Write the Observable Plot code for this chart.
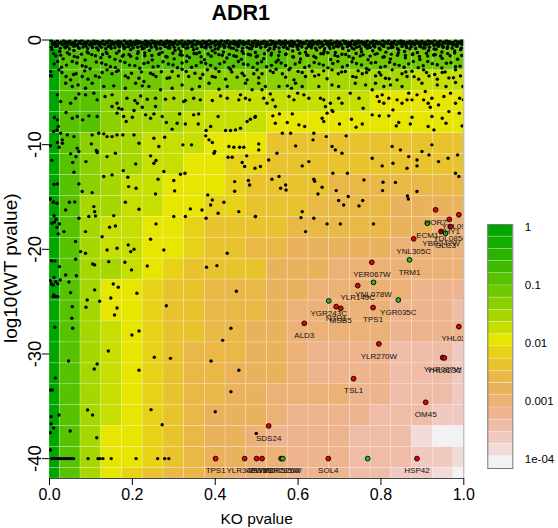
<!DOCTYPE html>
<html><head><meta charset="utf-8">
<script src="https://cdn.jsdelivr.net/npm/d3@7"></script>
<script src="https://cdn.jsdelivr.net/npm/@observablehq/plot@0.6"></script>
<style>
body{margin:0;background:#fff;}
#wrap{position:relative;width:558px;height:528px;}
#wrap svg{position:absolute;left:0;top:0;overflow:visible;}
</style></head><body><div id="wrap"></div>
<script>
// ---- grid of the background image (KO pvalue columns, log10 WT pvalue rows) ----
const xEdges = [0,0.025,0.075,0.125,0.175,0.225,0.275,0.325,0.375,0.425,0.475,0.525,0.575,0.625,0.675,0.725,0.775,0.825,0.875,0.925,0.975,1];
const yEdges = [0,-0.9,-2.9,-4.9,-6.9,-8.9,-10.9,-12.9,-14.9,-16.9,-18.9,-20.9,-22.9,-24.9,-26.9,-28.9,-30.9,-32.9,-34.9,-36.9,-38.9,-40.9,-41.9];
// colour level (0 = 1 ... 19 = 1e-04) of each cell, rows top to bottom
const cellLevels = [
 [0,2,2,2,2,2,2,2,2,2,3,3,3,3,3,3,3,3,3,3,3],
 [0,4,4,4,4,4,4,4,4,4,4,4,5,5,5,5,5,5,5,5,5],
 [0,4,4,4,5,5,6,6,6,6,6,6,6,7,7,7,7,7,8,8,8],
 [0,4,4,6,6,6,7,7,8,8,8,8,8,8,8,8,9,9,9,9,9],
 [0,4,4,6,7,7,7,8,8,8,8,9,9,9,9,9,9,9,9,9,9],
 [0,4,6,7,7,8,8,8,9,9,9,11,11,11,11,11,11,11,11,11,11],
 [0,4,6,7,7,8,8,9,9,10,10,11,11,11,11,11,11,11,11,11,11],
 [0,4,6,7,8,8,9,9,9,10,11,11,11,11,12,12,12,12,12,12,12],
 [0,4,7,7,8,8,9,9,10,10,11,11,11,12,12,12,12,13,13,13,13],
 [0,4,7,8,8,9,9,10,11,11,11,11,12,12,12,12,12,13,13,14,14],
 [0,4,7,8,8,9,9,10,11,11,12,12,13,13,13,13,13,14,14,14,14],
 [0,4,7,7,8,9,10,11,11,11,11,13,13,13,14,14,14,14,14,14,14],
 [0,4,7,9,9,10,11,11,12,12,12,13,13,14,14,14,14,14,15,15,15],
 [0,4,7,9,9,10,11,11,12,12,12,13,14,14,14,14,14,15,15,15,16],
 [0,4,7,8,9,10,11,11,12,12,13,13,14,14,14,14,14,15,15,15,15],
 [0,4,7,8,9,10,11,12,12,12,13,13,14,15,15,15,15,16,16,16,17],
 [0,4,7,8,9,10,11,12,12,13,13,13,14,15,15,15,15,16,16,16,17],
 [0,4,7,8,9,10,11,12,12,13,13,14,14,14,14,15,15,16,16,16,17],
 [0,4,7,8,9,10,11,12,13,13,13,14,15,15,15,15,16,16,16,17,17],
 [0,4,7,9,9,10,11,12,13,13,14,15,15,15,15,16,16,16,18,19,19],
 [0,4,7,9,9,10,11,12,13,13,14,14,15,15,15,16,16,16,17,17,18],
 [0,4,7,9,10,11,12,12,13,14,14,14,15,15,15,16,16,17,17,18,19]
];
// ---- genes: [KO pvalue, log10(WT pvalue)] ----
const topBand = [[.004,-.05],[.012,-.2],[.019,-.08],[.027,-.22],[.034,-.04],[.041,-.18],[.049,-.1],[.056,-.25],[.063,-.06],[.071,-.17],[.078,-.03],[.085,-.21],[.093,-.09],[.1,-.2],[.107,-.05],[.115,-.15],[.122,-.24],[.129,-.07],[.137,-.19],[.144,-.04],[.151,-.16],[.159,-.23],[.166,-.08],[.173,-.18],[.181,-.05],[.188,-.21],[.195,-.1],[.203,-.2],[.21,-.04],[.217,-.16],[.225,-.25],[.232,-.07],[.239,-.19],[.247,-.03],[.254,-.17],[.261,-.22],[.269,-.09],[.276,-.2],[.283,-.05],[.291,-.15],[.298,-.24],[.305,-.06],[.313,-.18],[.32,-.04],[.327,-.21],[.335,-.1],[.342,-.19],[.349,-.05],[.357,-.16],[.364,-.23],[.371,-.08],[.379,-.18],[.386,-.04],[.393,-.2],[.401,-.1],[.408,-.22],[.415,-.06],[.423,-.17],[.43,-.03],[.437,-.2],[.445,-.09],[.452,-.21],[.459,-.05],[.467,-.16],[.474,-.24],[.481,-.07],[.489,-.19],[.496,-.04],[.503,-.17],[.511,-.22],[.518,-.08],[.525,-.2],[.533,-.05],[.54,-.15],[.547,-.23],[.555,-.06],[.562,-.18],[.569,-.04],[.577,-.21],[.584,-.1],[.591,-.19],[.599,-.05],[.606,-.16],[.613,-.24],[.621,-.08],[.628,-.18],[.635,-.04],[.643,-.2],[.65,-.1],[.657,-.22],[.665,-.06],[.672,-.17],[.679,-.03],[.687,-.2],[.694,-.09],[.701,-.21],[.709,-.05],[.716,-.16],[.723,-.24],[.731,-.07],[.738,-.19],[.745,-.04],[.753,-.17],[.76,-.22],[.767,-.08],[.775,-.2],[.782,-.05],[.789,-.15],[.797,-.23],[.804,-.06],[.811,-.18],[.819,-.04],[.826,-.21],[.833,-.1],[.841,-.19],[.848,-.05],[.855,-.16],[.863,-.24],[.87,-.08],[.877,-.18],[.885,-.04],[.892,-.2],[.899,-.1],[.907,-.22],[.914,-.06],[.921,-.17],[.929,-.03],[.936,-.2],[.943,-.09],[.951,-.21],[.958,-.05],[.965,-.16],[.973,-.24],[.98,-.07],[.987,-.19],[.995,-.04],[.999,-.15],
[.008,-.42],[.02,-.55],[.031,-.35],[.043,-.6],[.052,-.38],[.066,-.5],[.075,-.33],[.088,-.58],[.097,-.45],[.11,-.36],[.121,-.52],[.133,-.4],[.142,-.62],[.156,-.34],[.165,-.48],[.178,-.57],[.187,-.37],[.199,-.5],[.21,-.31],[.222,-.6],[.231,-.43],[.244,-.36],[.255,-.55],[.266,-.41],[.277,-.33],[.289,-.58],[.298,-.46],[.311,-.35],[.322,-.52],[.333,-.4],[.344,-.61],[.356,-.33],[.367,-.49],[.378,-.56],[.389,-.37],[.4,-.5],[.412,-.32],[.423,-.59],[.434,-.44],[.446,-.36],[.457,-.54],[.468,-.4],[.479,-.34],[.49,-.57],[.502,-.45],[.513,-.35],[.524,-.51],[.535,-.41],[.546,-.62],[.558,-.34],[.569,-.48],[.58,-.56],[.591,-.37],[.602,-.5],[.614,-.31],[.625,-.6],[.636,-.43],[.647,-.36],[.659,-.55],[.67,-.41],[.681,-.33],[.692,-.58],[.703,-.46],[.715,-.35],[.726,-.52],[.737,-.4],[.748,-.61],[.76,-.33],[.771,-.49],[.782,-.56],[.793,-.37],[.804,-.5],[.816,-.32],[.827,-.59],[.838,-.44],[.849,-.36],[.861,-.54],[.872,-.4],[.883,-.34],[.894,-.57],[.905,-.45],[.917,-.35],[.928,-.51],[.939,-.41],[.95,-.62],[.962,-.34],[.973,-.48],[.984,-.56],[.995,-.37],
[.006,-.9],[.025,-1.1],[.038,-.75],[.059,-1.0],[.072,-.8],[.091,-1.15],[.104,-.72],[.118,-.95],[.137,-1.2],[.149,-.8],[.168,-1.05],[.183,-.7],[.196,-.92],[.214,-1.12],[.228,-.78],[.241,-1.0],[.259,-.85],[.272,-1.18],[.286,-.74],[.303,-.98],[.317,-1.1],[.33,-.8],[.348,-.93],[.362,-1.2],[.375,-.72],[.393,-1.02],[.407,-.84],[.42,-1.14],[.438,-.76],[.452,-.97],[.465,-1.08],[.483,-.81],[.497,-1.19],[.51,-.73],[.528,-.99],[.542,-.86],[.555,-1.13],[.573,-.77],[.587,-1.04],[.6,-.9],[.618,-1.17],[.632,-.74],[.645,-.96],[.663,-1.09],[.677,-.82],[.69,-1.2],[.708,-.75],[.722,-1.0],[.735,-.87],[.753,-1.12],[.767,-.78],[.78,-1.03],[.798,-.91],[.812,-1.16],[.825,-.73],[.843,-.95],[.857,-1.1],[.87,-.83],[.888,-1.19],[.902,-.76],[.915,-1.01],[.933,-.88],[.947,-1.14],[.96,-.79],[.978,-1.05],[.992,-.92],
[.015,-1.5],[.033,-1.8],[.048,-1.35],[.068,-1.65],[.086,-1.9],[.102,-1.4],[.124,-1.7],[.139,-1.3],[.158,-1.85],[.176,-1.55],[.192,-1.38],[.211,-1.75],[.23,-1.5],[.248,-1.9],[.265,-1.33],[.284,-1.62],[.301,-1.8],[.32,-1.45],[.338,-1.68],[.355,-1.32],[.374,-1.88],[.39,-1.55],[.409,-1.4],[.428,-1.72],[.445,-1.5],[.463,-1.85],[.48,-1.36],[.499,-1.6],[.517,-1.78],[.535,-1.44],[.552,-1.9],[.571,-1.34],[.589,-1.63],[.606,-1.82],[.624,-1.47],[.643,-1.7],[.661,-1.31],[.679,-1.87],[.696,-1.56],[.715,-1.39],[.733,-1.74],[.75,-1.52],[.769,-1.88],[.786,-1.35],[.805,-1.64],[.823,-1.81],[.84,-1.46],[.859,-1.69],[.877,-1.33],[.894,-1.86],[.913,-1.54],[.931,-1.41],[.948,-1.76],[.967,-1.5],[.985,-1.84],
[.011,-2.3],[.029,-2.6],[.055,-2.05],[.079,-2.45],[.098,-2.75],[.126,-2.2],[.147,-2.55],[.171,-2.0],[.193,-2.4],[.218,-2.7],[.238,-2.15],[.262,-2.5],[.287,-2.3],[.309,-2.65],[.331,-2.05],[.354,-2.45],[.377,-2.25],[.401,-2.72],[.422,-2.1],[.444,-2.5],[.468,-2.3],[.491,-2.62],[.512,-2.08],[.536,-2.42],[.559,-2.2],[.581,-2.7],[.604,-2.12],[.627,-2.48],[.651,-2.28],[.672,-2.66],[.696,-2.04],[.719,-2.44],[.741,-2.24],[.765,-2.74],[.787,-2.14],[.81,-2.52],[.833,-2.32],[.856,-2.6],[.878,-2.06],[.902,-2.46],[.924,-2.26],[.947,-2.68],[.969,-2.18],[.991,-2.5]];
const topBand2 = [[.008,-.32],[.016,-.4],[.023,-.3],[.031,-.44],[.038,-.34],[.045,-.28],[.053,-.41],[.06,-.33],[.067,-.45],[.075,-.29],[.082,-.38],[.089,-.31],[.097,-.43],[.104,-.35],[.111,-.28],[.119,-.4],[.126,-.32],[.133,-.44],[.141,-.3],[.148,-.37],[.155,-.42],[.163,-.29],[.17,-.36],[.177,-.45],[.185,-.31],[.192,-.39],[.199,-.3],[.207,-.43],[.214,-.34],[.221,-.28],[.229,-.41],[.236,-.33],[.243,-.45],[.251,-.29],[.258,-.38],[.265,-.31],[.273,-.43],[.28,-.35],[.287,-.28],[.295,-.4],[.302,-.32],[.309,-.44],[.317,-.3],[.324,-.37],[.331,-.42],[.339,-.29],[.346,-.36],[.353,-.45],[.361,-.31],[.368,-.39],[.375,-.3],[.383,-.43],[.39,-.34],[.397,-.28],[.405,-.41],[.412,-.33],[.419,-.45],[.427,-.29],[.434,-.38],[.441,-.31],[.449,-.43],[.456,-.35],[.463,-.28],[.471,-.4],[.478,-.32],[.485,-.44],[.493,-.3],[.5,-.37],[.507,-.42],[.515,-.29],[.522,-.36],[.529,-.45],[.537,-.31],[.544,-.39],[.551,-.3],[.559,-.43],[.566,-.34],[.573,-.28],[.581,-.41],[.588,-.33],[.595,-.45],[.603,-.29],[.61,-.38],[.617,-.31],[.625,-.43],[.632,-.35],[.639,-.28],[.647,-.4],[.654,-.32],[.661,-.44],[.669,-.3],[.676,-.37],[.683,-.42],[.691,-.29],[.698,-.36],[.705,-.45],[.713,-.31],[.72,-.39],[.727,-.3],[.735,-.43],[.742,-.34],[.749,-.28],[.757,-.41],[.764,-.33],[.771,-.45],[.779,-.29],[.786,-.38],[.793,-.31],[.801,-.43],[.808,-.35],[.815,-.28],[.823,-.4],[.83,-.32],[.837,-.44],[.845,-.3],[.852,-.37],[.859,-.42],[.867,-.29],[.874,-.36],[.881,-.45],[.889,-.31],[.896,-.39],[.903,-.3],[.911,-.43],[.918,-.34],[.925,-.28],[.933,-.41],[.94,-.33],[.947,-.45],[.955,-.29],[.962,-.38],[.969,-.31],[.977,-.43],[.984,-.35],[.991,-.28],[.998,-.4],
[.004,-.7],[.015,-.62],[.026,-.8],[.037,-.66],[.048,-.85],[.059,-.6],[.07,-.74],[.081,-.68],[.092,-.82],[.103,-.63],[.114,-.77],[.125,-.7],[.136,-.84],[.147,-.61],[.158,-.73],[.169,-.66],[.18,-.81],[.191,-.64],[.202,-.76],[.213,-.69],[.224,-.85],[.235,-.6],[.246,-.72],[.257,-.67],[.268,-.8],[.279,-.63],[.29,-.78],[.301,-.7],[.312,-.83],[.323,-.61],[.334,-.74],[.345,-.65],[.356,-.82],[.367,-.64],[.378,-.76],[.389,-.69],[.4,-.85],[.411,-.6],[.422,-.71],[.433,-.67],[.444,-.8],[.455,-.62],[.466,-.78],[.477,-.7],[.488,-.84],[.499,-.61],[.51,-.73],[.521,-.66],[.532,-.81],[.543,-.64],[.554,-.76],[.565,-.69],[.576,-.85],[.587,-.6],[.598,-.72],[.609,-.67],[.62,-.8],[.631,-.63],[.642,-.78],[.653,-.7],[.664,-.83],[.675,-.61],[.686,-.74],[.697,-.65],[.708,-.82],[.719,-.64],[.73,-.76],[.741,-.69],[.752,-.85],[.763,-.6],[.774,-.71],[.785,-.67],[.796,-.8],[.807,-.62],[.818,-.78],[.829,-.7],[.84,-.84],[.851,-.61],[.862,-.73],[.873,-.66],[.884,-.81],[.895,-.64],[.906,-.76],[.917,-.69],[.928,-.85],[.939,-.6],[.95,-.72],[.961,-.67],[.972,-.8],[.983,-.63],[.994,-.78],
[.01,-1.3],[.027,-1.45],[.043,-1.22],[.06,-1.58],[.077,-1.35],[.094,-1.25],[.111,-1.5],[.128,-1.38],[.145,-1.6],[.162,-1.27],[.179,-1.42],[.196,-1.55],[.213,-1.3],[.23,-1.24],[.247,-1.48],[.264,-1.36],[.281,-1.57],[.298,-1.26],[.315,-1.41],[.332,-1.52],[.349,-1.29],[.366,-1.6],[.383,-1.34],[.4,-1.23],[.417,-1.46],[.434,-1.37],[.451,-1.58],[.468,-1.28],[.485,-1.44],[.502,-1.53],[.519,-1.31],[.536,-1.25],[.553,-1.49],[.57,-1.39],[.587,-1.59],[.604,-1.27],[.621,-1.43],[.638,-1.55],[.655,-1.32],[.672,-1.22],[.689,-1.47],[.706,-1.36],[.723,-1.57],[.74,-1.29],[.757,-1.42],[.774,-1.54],[.791,-1.3],[.808,-1.6],[.825,-1.35],[.842,-1.24],[.859,-1.48],[.876,-1.38],[.893,-1.58],[.91,-1.26],[.927,-1.44],[.944,-1.53],[.961,-1.3],[.978,-1.24],[.995,-1.47],
[.02,-2.05],[.041,-2.4],[.066,-2.2],[.088,-2.55],[.113,-2.1],[.136,-2.35],[.159,-2.62],[.182,-2.15],[.206,-2.45],[.228,-2.25],[.25,-2.58],[.274,-2.08],[.298,-2.38],[.32,-2.2],[.343,-2.6],[.366,-2.12],[.389,-2.42],[.411,-2.28],[.433,-2.65],[.456,-2.05],[.479,-2.36],[.502,-2.22],[.524,-2.56],[.547,-2.1],[.57,-2.44],[.593,-2.3],[.616,-2.62],[.639,-2.15],[.661,-2.4],[.684,-2.24],[.707,-2.58],[.73,-2.08],[.753,-2.38],[.776,-2.2],[.799,-2.6],[.821,-2.12],[.844,-2.42],[.867,-2.28],[.89,-2.64],[.913,-2.06],[.936,-2.36],[.958,-2.22],[.98,-2.56],
[.03,-3.1],[.058,-3.3],[.085,-2.95],[.12,-3.55],[.162,-3.0],[.19,-3.6],[.222,-3.05],[.25,-3.3],[.29,-3.6],[.33,-3.0],[.37,-3.3],[.4,-3.55],[.44,-3.05],[.47,-3.4],[.505,-3.6],[.54,-3.1],[.57,-3.55],[.6,-3.0],[.64,-3.45],[.67,-3.7],[.705,-3.05],[.74,-3.55],[.765,-3.1],[.8,-3.35],[.82,-3.7],[.86,-3.05],[.88,-3.5],[.91,-3.1],[.93,-3.3],[.955,-3.05],[.975,-3.6]];
const leftGenes = [[.005,-3.43],[.023,-2.85],[.04,-3.49],[.051,-3.81],[.064,-3.23],[.079,-3.49],[.093,-3.74],[.111,-3.43],[.127,-3.11],[.139,-2.85],[.151,-3.23],[.166,-2.92],[.183,-3.43],[.198,-3.17],[.216,-3.65],[.228,-3.97],[.244,-3.17],[.257,-3.49],[.27,-3.04],[.284,-3.65],[.296,-3.01],[.311,-3.43],[.32,-2.79],[.336,-3.49],[.351,-3.17],[.364,-3.65],[.381,-2.85],[.393,-3.49],[.409,-3.01],[.425,-3.74],[.437,-2.79],[.453,-3.55],[.465,-3.17],[.477,-3.81],[.493,-3.23],
[.039,-4.13],[.055,-4.45],[.069,-4.29],[.087,-4.61],[.103,-4.13],[.131,-4.45],[.155,-4.38],[.183,-4.61],[.208,-4.13],[.224,-4.38],[.24,-4.45],[.268,-4.76],[.296,-4.61],[.32,-4.29],[.344,-4.7],[.362,-4.45],[.385,-4.13],[.409,-4.7],[.429,-4.45],[.473,-4.13],[.489,-4.76],
[.019,-5.24],[.027,-5.88],[.051,-6.04],[.063,-5.56],[.071,-5.15],[.087,-5.24],[.107,-5.08],[.115,-5.72],[.134,-5.4],[.151,-5.24],[.163,-6.04],[.187,-5.56],[.206,-5.78],[.22,-5.34],[.236,-5.66],[.256,-5.56],[.28,-5.66],[.3,-5.56],[.324,-5.88],[.328,-5.78],[.348,-5.56],[.364,-5.72],[.393,-5.78],[.413,-5.34],[.429,-5.56],[.457,-5.72],[.461,-5.24],[.473,-5.56],[.483,-5.72],
[.019,-7.63],[.021,-8.27],[.027,-8.91],[.031,-9.54],[.04,-6.93],[.055,-7.47],[.067,-7.31],[.08,-7.63],[.095,-7.25],[.115,-7.31],[.119,-8.91],[.131,-8.97],[.151,-6.36],[.163,-6.99],[.167,-6.52],[.175,-6.61],[.179,-7.31],[.185,-7.79],[.2,-7.38],[.204,-6.74],[.212,-6.04],[.224,-6.42],[.232,-7.15],[.244,-7.47],[.252,-7.06],[.256,-6.36],[.272,-7.31],[.282,-7.89],[.296,-8.52],[.308,-7.95],[.314,-7.06],[.328,-8.02],[.348,-7.15],[.36,-7.06],[.359,-8.02],[.378,-8.65],[.389,-8.27],[.407,-7.31],[.425,-8.65],[.437,-8.65],[.449,-8.59],[.461,-8.43],[.477,-7.79],[.485,-7.57],[.496,-7.38],
[.01,-8.75],[.019,-9.8],[.031,-9.86],[.043,-9.07],[.059,-9.23],[.067,-10.34],[.103,-9.07],[.101,-9.93],[.113,-10.56],[.115,-10.76],[.139,-9.23],[.151,-9.23],[.163,-9.07],[.177,-9.07],[.204,-9.07],[.216,-9.86],[.252,-9.39],[.264,-10.18],[.278,-9.29],[.322,-10.02],[.343,-10.02],[.377,-9.16],[.385,-9.54],[.393,-9.8],[.399,-10.66],[.433,-10.18],[.445,-10.25],[.459,-10.25],[.469,-10.25],
[.023,-10.25],[.051,-10.88],[.056,-11.71],[.064,-11.14],[.071,-10.66],[.088,-11.62],[.115,-10.66],[.139,-11.14],[.159,-10.82],[.208,-11.84],[.244,-11.07],[.252,-11.78],[.257,-11.52],[.276,-12.57],[.316,-12.83],[.327,-12.73],[.397,-10.82],[.431,-11.2],[.441,-11.2],[.465,-11.71],[.471,-12.09],[.476,-11.07],[.496,-12.25],
[.001,-15.19],[.01,-15.47],[.019,-13.75],[.039,-16.24],[.048,-15.5],[.059,-12.64],[.061,-15.47],[.071,-13.75],[.071,-17.03],[.079,-14.48],[.087,-18.31],[.095,-16.87],[.103,-14.58],[.107,-15.92],[.109,-16.4],[.111,-16.81],[.131,-13.05],[.145,-17.89],[.151,-12.89],[.155,-16.78],[.159,-17.77],[.178,-12.48],[.183,-15.5],[.189,-13.11],[.191,-14.01],[.209,-14.17],[.216,-16.17],[.244,-19.04],[.256,-14.71],[.257,-17.57],[.262,-13.3],[.276,-20.06],[.3,-13.43],[.302,-14.42],[.3,-16.87],[.328,-16.87],[.34,-16.14],[.368,-16.24],[.378,-17.03],[.382,-14.8],[.389,-15.76],[.393,-15.28],[.407,-16.56],[.421,-15.5],[.429,-20.38],[.447,-13.53],[.447,-14.45],[.457,-16.4],[.48,-13.43],[.483,-13.85],[.497,-16.87],
[.016,-17.13],[.024,-17.57],[.021,-18.53],[.006,-17.51],[.035,-18.31],[.063,-19.26],[.075,-20.22],[.087,-20.38],[.127,-18.79],[.139,-20.06],[.163,-19.9],[.19,-19.58],[.196,-20.22],[.204,-20.0],
[.001,-3.4],[.003,-3.0],[.012,-7.4],[.002,-10.1],[.018,-8.6],[.006,-11.5],[.011,-13.8],[.002,-15.2],[.009,-15.5],[.018,-15.6],[.011,-16.8],[.012,-17.4],[.018,-17.9],[.005,-21.1],[.002,-23.0],[.011,-22.7],[.009,-23.4],[.02,-23.3],[.009,-24.5],[.011,-24.5]];
const rightGenes = [[.501,-2.85],[.513,-3.23],[.533,-2.95],[.547,-2.79],[.562,-3.23],[.578,-2.85],[.59,-3.81],[.61,-3.11],[.618,-3.49],[.634,-2.98],[.65,-3.33],[.662,-2.95],[.682,-2.85],[.697,-3.23],[.714,-3.01],[.732,-3.49],[.745,-2.95],[.755,-3.23],[.771,-2.85],[.787,-3.43],[.796,-3.11],[.811,-3.65],[.827,-2.85],[.839,-3.81],[.851,-3.23],[.863,-3.49],[.875,-2.98],[.891,-3.74],[.903,-2.85],[.916,-3.43],[.936,-3.74],[.948,-3.11],[.964,-3.62],[.98,-2.85],[.992,-3.43],
[.505,-4.13],[.521,-4.45],[.554,-4.45],[.574,-4.38],[.594,-4.13],[.61,-4.45],[.65,-4.45],[.682,-4.29],[.698,-4.45],[.738,-4.13],[.763,-4.29],[.787,-4.13],[.807,-4.45],[.823,-4.29],[.851,-4.45],[.899,-4.13],[.936,-4.29],[.957,-4.45],[.98,-4.06],[.998,-4.45],
[.513,-4.76],[.517,-5.56],[.525,-6.04],[.533,-5.15],[.539,-5.72],[.545,-6.36],[.578,-5.4],[.584,-4.6],[.59,-5.72],[.599,-5.08],[.614,-5.24],[.626,-5.56],[.654,-5.56],[.662,-5.72],[.666,-6.36],[.678,-6.04],[.682,-6.74],[.698,-5.56],[.706,-6.04],[.726,-5.08],[.747,-5.56],[.757,-6.52],[.779,-4.76],[.791,-5.4],[.796,-5.88],[.803,-5.24],[.807,-6.04],[.819,-5.56],[.829,-6.68],[.839,-5.72],[.851,-6.04],[.863,-5.72],[.867,-5.08],[.875,-5.72],[.887,-5.24],[.903,-5.72],[.907,-4.92],[.914,-6.04],[.919,-6.42],[.923,-5.56],[.939,-6.2],[.952,-5.4],[.968,-5.08],[.98,-6.04],[.99,-5.56],[.999,-5.72],
[.497,-7.31],[.539,-7.25],[.545,-7.95],[.555,-7.06],[.562,-8.91],[.574,-7.89],[.582,-8.91],[.586,-7.06],[.602,-8.11],[.616,-8.27],[.638,-8.91],[.658,-7.47],[.662,-7.79],[.67,-6.99],[.684,-6.84],[.7,-8.02],[.716,-9.16],[.729,-7.57],[.74,-8.33],[.755,-8.02],[.779,-7.15],[.796,-7.25],[.819,-7.25],[.837,-8.21],[.843,-7.89],[.871,-8.02],[.875,-7.38],[.914,-8.27],[.923,-7.31],[.928,-8.59],[.948,-7.47],[.957,-7.95],[.964,-6.84],[.989,-6.99],[.996,-8.21],
[.505,-9.93],[.505,-10.5],[.509,-12.09],[.529,-11.46],[.549,-10.82],[.594,-10.12],[.61,-12.03],[.626,-11.62],[.636,-9.54],[.668,-9.23],[.682,-10.18],[.69,-10.5],[.706,-10.82],[.779,-11.3],[.803,-12.03],[.827,-10.18],[.829,-11.78],[.847,-10.5],[.863,-12.25],[.867,-11.14],[.887,-11.46],[.887,-12.03],[.899,-10.66],[.916,-10.98],[.923,-10.02],[.939,-11.62],[.962,-11.3],[.98,-12.73],[.985,-10.98],[.988,-13.05],
[.537,-13.3],[.554,-13.05],[.558,-14.17],[.57,-13.85],[.571,-14.33],[.61,-16.4],[.607,-16.97],[.618,-18.31],[.638,-13.3],[.64,-13.5],[.648,-14.71],[.658,-14.07],[.684,-12.73],[.692,-14.39],[.698,-15.34],[.71,-15.76],[.719,-12.73],[.721,-14.96],[.747,-15.85],[.756,-15.34],[.759,-13.37],[.782,-17.57],[.805,-13.59],[.804,-14.39],[.835,-13.62],[.864,-14.9],[.866,-15.19],[.887,-14.48],[.638,-17.03],[.67,-17.57],[.702,-17.57],[.497,-16.87]];
const lowGenes = [[.013,-21.11],[.063,-20.95],[.024,-21.65],[.104,-21.4],[.109,-21.49],[.143,-21.18],[.182,-21.24],[.198,-21.97],[.236,-21.59],[.379,-21.72],[.404,-21.56],[.039,-22.45],[.065,-22.52],[.026,-22.93],[.015,-23.09],[.005,-23.31],[.047,-23.12],[.109,-23.88],[.154,-23.31],[.166,-23.63],[.051,-24.14],[.211,-24.2],[.01,-24.36],[.015,-24.52],[.02,-24.52],[.148,-24.65],[.091,-24.84],[.121,-24.97],[.451,-24.01],[.055,-25.48],[.088,-25.54],[.163,-25.61],[.282,-25.39],[.157,-26.27],[.054,-26.59],[.013,-27.45],[.056,-27.55],[.438,-27.55],[.216,-27.8],[.199,-28.19],[.418,-28.7],[.142,-29.72],[.046,-30.67],[.115,-30.96],[.108,-31.44],[.253,-30.32],[.292,-30.42],[.39,-30.67],[.216,-31.56],[.457,-31.56],[.014,-32.3],[.003,-33.45],[.007,-33.45],[.438,-33.6],[.092,-35.36],[.104,-35.83],[.245,-35.32],[.4,-35.52],[.023,-35.83],[.004,-35.99],[.004,-36.69],[.01,-37.08],[.05,-37.36],[.002,-37.52],[.272,-36.76],[.114,-38.0],[.002,-39.18],[.499,-37.59],
[.005,-40],[.01,-40],[.014,-40],[.019,-40],[.024,-40],[.029,-40],[.034,-40],[.039,-40],[.043,-40],[.048,-40],[.053,-40],[.058,-40],[.093,-40],[.117,-40],[.122,-40],[.129,-40],[.149,-40],[.209,-40],[.261,-40],[.278,-40],[.288,-40]];
// highlighted genes: name, KO pvalue, log10(WT pvalue), group
const hiNames = ["HOR7","YKL091C","RHY1","ECM1","YDL085C","GLC3","YBR242W","YNL305C","YER067W","TRM1","YLR149C","YNL078W","YGR243C","NTH1","MSB5","YGR035C","TPS1","ALD3","YHL021C","YLR270W","YHR087W","YHL023C","TSL1","OM45","SDS24","TPS1","YLR345W","GSY2","PGM2","YBR285W","YDR526W","SOL4","","HSP42"];
const hiKO =   [0.932,0.988,0.965,0.912,0.968,0.956,0.945,0.879,0.778,0.869,0.744,0.782,0.674,0.692,0.703,0.842,0.781,0.615,0.988,0.795,0.949,0.953,0.734,0.908,0.529,0.401,0.471,0.500,0.513,0.559,0.563,0.673,0.768,0.887];
const hiWT =   [-16.23,-16.70,-17.14,-17.51,-17.83,-18.47,-18.3,-19.0,-21.24,-21.01,-23.47,-23.16,-24.93,-25.48,-25.64,-24.84,-25.57,-27.07,-27.39,-29.04,-30.35,-30.38,-32.36,-34.62,-36.88,-40,-40,-40,-40,-40,-40,-40,-40,-40];
const hiGroup = ["red","red","red","green","red","green","red","red","red","green","red","green","green","red","red","green","red","red","red","red","red","red","red","red","red","red","red","red","red","red","green","red","green","red"];
// axes / legend
const xTicks = [0,0.2,0.4,0.6,0.8,1];
const yTicks = [0,-10,-20,-30,-40];
const legendTicks = [1,0.1,0.01,0.001,0.0001];
const legendLabels = ["1","0.1","0.01","0.001","1e-04"];
const legendRange = [1.11, 7.0e-5];

// ---- palette: R terrain.colors(20) ----
function hsv(h,s,v){const i=Math.floor(h*6)%6,f=h*6-Math.floor(h*6),p=v*(1-s),q=v*(1-f*s),t=v*(1-(1-f)*s);
 const c=[[v,t,p],[q,v,p],[p,v,t],[p,q,v],[t,p,v],[v,p,q]][i];return d3.rgb(c[0]*255,c[1]*255,c[2]*255).formatHex();}
const pal=[];
for(let i=0;i<10;i++) pal.push(hsv(1/3-(1/6)*i/9,1,0.65+0.25*i/9));
for(let j=1;j<=10;j++) pal.push(hsv(1/6-(1/6)*j/10,1-j/10,0.9+0.05*j/10));

const cells=[];
cellLevels.forEach((row,r)=>row.forEach((lv,c)=>cells.push({x1:xEdges[c],x2:xEdges[c+1],y1:yEdges[r+1],y2:yEdges[r],lv})));
const genes=[...topBand,...topBand2,...leftGenes,...rightGenes,...lowGenes];
const hi=hiNames.map((n,i)=>({name:n,x:hiKO[i],y:hiWT[i],g:hiGroup[i]}));
const hiOrdered=[...hi.filter(d=>d.g==="red"),...hi.filter(d=>d.g==="green")];

const font='"Liberation Sans", Arial, Helvetica, sans-serif';
const W=558,H=528;
const main=Plot.plot({
 width:W,height:H,marginLeft:49,marginRight:94.7,marginTop:39.5,marginBottom:50,
 style:{fontFamily:font,background:"transparent",color:"black"},
 x:{domain:[0,1]}, y:{domain:[-41.9,0]},
 marks:[
  Plot.rect(cells,{x1:"x1",x2:"x2",y1:"y1",y2:"y2",fill:d=>pal[d.lv],stroke:"#fff",strokeOpacity:0.28,strokeWidth:0.7}),
  Plot.dot(genes,{x:d=>d[0],y:d=>d[1],r:1.7,fill:"black",stroke:"none",clip:true}),
  Plot.dot(hiOrdered,{x:"x",y:"y",r:2.4,fill:d=>d.g==="red"?"#e80000":"#1fbf1f",stroke:"black",strokeWidth:0.9,clip:true}),
  Plot.text(hiOrdered,{x:"x",y:"y",text:"name",dy:9,lineAnchor:"top",fontSize:8,fill:"#111",clip:true}),
  Plot.ruleX([1],{stroke:"#aaa",strokeWidth:1}),
  Plot.ruleY([-41.9],{x1:0,x2:1,stroke:"#444"}),
  Plot.axisX(xTicks,{tickSize:7,tickPadding:3,tickFormat:d3.format(".1f"),fontSize:16,label:null}),
  Plot.axisY(yTicks,{tickSize:7,tickFormat:()=>"",label:null}),
  Plot.text(yTicks,{y:d=>d,text:d=>String(d),frameAnchor:"left",textAnchor:"middle",dx:-9,rotate:-90,lineAnchor:"bottom",fontSize:18.5}),
  Plot.text(["KO pvalue"],{frameAnchor:"bottom",dy:45,lineAnchor:"bottom",fontSize:15.5}),
  Plot.text(["log10(WT pvalue)"],{frameAnchor:"left",textAnchor:"middle",dx:-32.5,dy:9,rotate:-90,lineAnchor:"bottom",fontSize:19}),
  Plot.text(["ADR1"],{frameAnchor:"top",dx:-16,dy:-20,lineAnchor:"bottom",fontSize:21.5,fontWeight:"bold"})
 ]
});
const bandEdges=d3.range(21).map(i=>Math.pow(10,Math.log10(legendRange[0])+i*(Math.log10(legendRange[1])-Math.log10(legendRange[0]))/20));
const bands=pal.map((c,i)=>({y1:bandEdges[i],y2:bandEdges[i+1],c}));
const legend=Plot.plot({
 width:W,height:H,marginLeft:487.3,marginRight:45.7,marginTop:224,marginBottom:60,
 style:{fontFamily:font,background:"transparent"},
 y:{type:"log",domain:[legendRange[1],legendRange[0]],axis:null}, x:{axis:null},
 marks:[
  Plot.rect(bands,{y1:"y1",y2:"y2",fill:"c",stroke:"#fff",strokeOpacity:0.3,strokeWidth:0.7}),
  Plot.frame({stroke:"#777",strokeWidth:1}),
  Plot.text(legendTicks,{y:d=>d,text:(d,i)=>legendLabels[i],frameAnchor:"right",dx:12,textAnchor:"start",fontSize:11.5})
 ]
});
document.getElementById("wrap").append(main,legend);
</script></body></html>
